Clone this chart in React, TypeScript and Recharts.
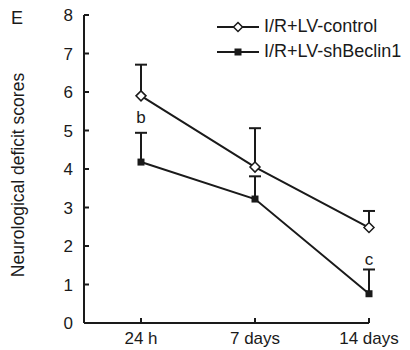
import { LineChart, Line, XAxis, YAxis, ErrorBar, Legend, ReferenceDot } from 'recharts';

const categories = ['24 h', '7 days', '14 days'];
const xPositions = [1, 2, 3];
const controlMean = [5.9, 4.05, 2.48];
const controlErr = [0.81, 1.01, 0.43];
const shMean = [4.18, 3.22, 0.76];
const shErr = [0.76, 0.59, 0.63];
const yTicks = [0, 1, 2, 3, 4, 5, 6, 7, 8];
const notes = [
  { x: 1, y: 5.34, text: 'b' },
  { x: 3, y: 1.67, text: 'c' },
];

const INK = '#1a1a1a';
const FONT = '"Liberation Sans", Arial, sans-serif';

const data = xPositions.map((x, i) => ({
  x,
  control: controlMean[i],
  controlErr: [0, controlErr[i]],
  controlTop: controlMean[i] + controlErr[i],
  sh: shMean[i],
  shErr: [0, shErr[i]],
  shTop: shMean[i] + shErr[i],
}));

const Diamond = (props: any) => {
  const { cx, cy } = props;
  if (cx == null || cy == null) return null;
  return (
    <polygon
      key={`d-${cx}`}
      points={`${cx},${cy - 5} ${cx + 5},${cy} ${cx},${cy + 5} ${cx - 5},${cy}`}
      fill="#fff"
      stroke={INK}
      strokeWidth={1.5}
    />
  );
};

const Square = (props: any) => {
  const { cx, cy } = props;
  if (cx == null || cy == null) return null;
  return <rect key={`s-${cx}`} x={cx - 3.5} y={cy - 3.5} width={7} height={7} fill={INK} />;
};

// cap drawn only at the top of the error whisker
const Cap = (props: any) => {
  const { cx, cy } = props;
  if (cx == null || cy == null) return null;
  return <line key={`c-${cx}-${cy}`} x1={cx - 6} y1={cy} x2={cx + 6} y2={cy} stroke={INK} strokeWidth={2} />;
};

const LegendBox = (props: any) => {
  const items = (props.payload || []).filter((it: any) => it.value && !String(it.value).startsWith('_'));
  return (
    <div>
      {items.map((it: any, i: number) => (
        <div key={it.value} style={{ display: 'flex', alignItems: 'center', height: 25 }}>
          <svg width={48} height={14}>
            <line x1={1} y1={7} x2={43} y2={7} stroke={INK} strokeWidth={2} />
            {i === 0 ? (
              <polygon points="22,2.5 26.5,7 22,11.5 17.5,7" fill="#fff" stroke={INK} strokeWidth={1.5} />
            ) : (
              <rect x={18.5} y={3.5} width={7} height={7} fill={INK} />
            )}
          </svg>
          <span style={{ fontSize: 18, color: INK, fontFamily: FONT }}>{it.value}</span>
        </div>
      ))}
    </div>
  );
};

export default function App() {
  return (
    <div style={{ position: 'absolute', left: 0, top: 0, width: 410, height: 350, background: '#fff' }}>
      <div style={{ position: 'absolute', left: 11, top: 8, fontSize: 18, fontFamily: FONT, color: INK }}>E</div>
      <LineChart
        width={410}
        height={350}
        data={data}
        margin={{ top: 15, right: 41, left: 0, bottom: 0 }}
        style={{ fontFamily: FONT }}
      >
        <XAxis
          dataKey="x"
          type="number"
          domain={[0.5, 3]}
          ticks={xPositions}
          tickFormatter={(v: number) => categories[xPositions.indexOf(v)] ?? ''}
          height={27}
          axisLine={{ stroke: INK, strokeWidth: 2 }}
          tickLine={{ stroke: INK, strokeWidth: 2 }}
          tickSize={-5}
          tickMargin={14}
          tick={{ fontSize: 17, fill: INK }}
          interval={0}
        />
        <YAxis
          domain={[0, 8]}
          ticks={yTicks}
          width={84}
          axisLine={{ stroke: INK, strokeWidth: 2 }}
          tickLine={{ stroke: INK, strokeWidth: 2 }}
          tickSize={-5}
          tickMargin={16}
          tick={{ fontSize: 17, fill: INK }}
          interval={0}
          label={{
            content: () => (
              <text
                x={18}
                y={175}
                transform="rotate(-90 18 175)"
                textAnchor="middle"
                dominantBaseline="central"
                fontSize={17.5}
                fill={INK}
                fontFamily={FONT}
              >
                Neurological deficit scores
              </text>
            ),
          }}
        />
        <Legend
          layout="vertical"
          align="center"
          verticalAlign="middle"
          content={<LegendBox />}
          wrapperStyle={{ top: 14, left: 216, width: 200 }}
        />
        <Line
          dataKey="control"
          name="I/R+LV-control"
          stroke={INK}
          strokeWidth={2}
          dot={<Diamond />}
          activeDot={false}
          isAnimationActive={false}
        >
          <ErrorBar dataKey="controlErr" direction="y" width={0} stroke={INK} strokeWidth={2} />
        </Line>
        <Line
          dataKey="sh"
          name="I/R+LV-shBeclin1"
          stroke={INK}
          strokeWidth={2}
          dot={<Square />}
          activeDot={false}
          isAnimationActive={false}
        >
          <ErrorBar dataKey="shErr" direction="y" width={0} stroke={INK} strokeWidth={2} />
        </Line>
        <Line
          dataKey="controlTop"
          name="_controlTop"
          legendType="none"
          stroke="none"
          dot={<Cap />}
          activeDot={false}
          isAnimationActive={false}
        />
        <Line
          dataKey="shTop"
          name="_shTop"
          legendType="none"
          stroke="none"
          dot={<Cap />}
          activeDot={false}
          isAnimationActive={false}
        />
        {notes.map((n) => (
          <ReferenceDot
            key={n.text}
            x={n.x}
            y={n.y}
            r={0}
            fill="none"
            stroke="none"
            label={{ value: n.text, position: 'center', fontSize: 17, fill: INK }}
          />
        ))}
      </LineChart>
    </div>
  );
}
